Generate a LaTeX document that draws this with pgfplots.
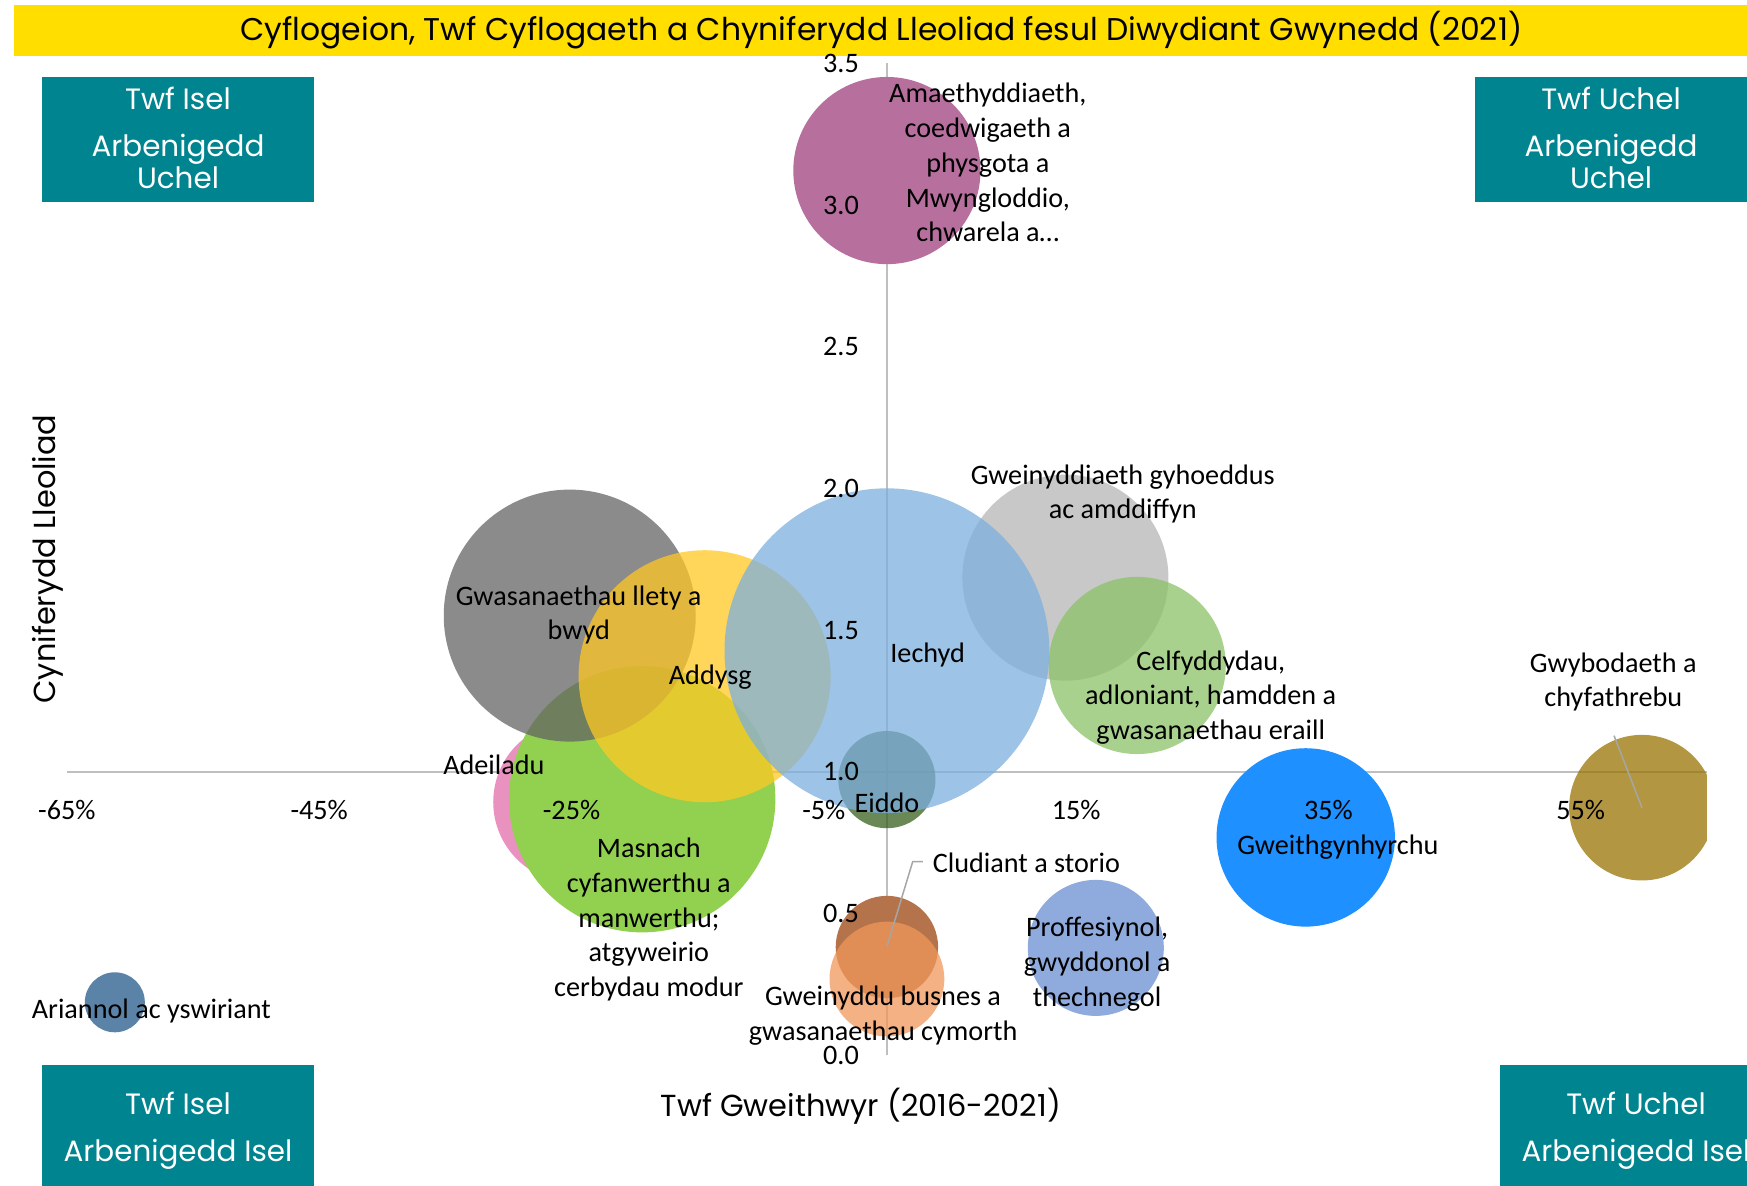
\documentclass[border=0pt]{standalone}
\usepackage{pgfplots}
\pgfplotsset{compat=1.18}
\usepackage{fontspec}
\setmainfont{Carlito}
\newfontfamily\geo{Poppins}
\definecolor{tealbox}{RGB}{0,132,143}
\definecolor{titlebar}{RGB}{255,222,0}
\definecolor{axgray}{RGB}{191,191,191}
\definecolor{leadgray}{RGB}{166,166,166}
\definecolor{cAde}{RGB}{233,145,191}
\definecolor{cMas}{RGB}{146,208,80}
\definecolor{cLle}{RGB}{100,100,100}
\definecolor{cAdd}{RGB}{255,200,35}
\definecolor{cEid}{RGB}{56,95,30}
\definecolor{cGwe}{RGB}{200,200,200}
\definecolor{cCel}{RGB}{140,194,104}
\definecolor{cIec}{RGB}{124,175,222}
\definecolor{cAma}{RGB}{183,112,158}
\definecolor{cGwh}{RGB}{30,144,255}
\definecolor{cGwy}{RGB}{152,115,2}
\definecolor{cClu}{RGB}{180,115,75}
\definecolor{cBus}{RGB}{240,151,90}
\definecolor{cPro}{RGB}{143,170,220}
\definecolor{cAri}{RGB}{91,131,168}
\newcommand{\lab}{\fontsize{14.1}{17.4}\selectfont}
\newcommand{\boxfont}{\geo\fontsize{14.7}{16}\selectfont}
\pgfplotsset{
  bub/.style={only marks, mark=*, mark options={draw opacity=0, fill=#1}},
  bubt/.style={only marks, mark=*, mark options={draw opacity=0, fill=#1, fill opacity=0.75}},
}
\begin{document}
\begin{tikzpicture}
\path[use as bounding box] (-33.45pt,-65.5pt) rectangle (840.05pt,527.5pt);
% title band
\fill[titlebar] (-26.2pt,499.5pt) rectangle (845pt,525pt);
\node[font=\geo\fontsize{15.7}{17}\selectfont, inner sep=0pt] at (407.3pt,512.25pt) {Cyflogeion, Twf Cyflogaeth a Chyniferydd Lleoliad fesul Diwydiant Gwynedd (2021)};
% quadrant boxes
\fill[tealbox] (-12.45pt,426.65pt) rectangle (123.55pt,489.15pt);
\node[white, font=\boxfont, inner sep=0pt] at (55.55pt,478.5pt) {Twf Isel};
\node[white, font=\boxfont, inner sep=0pt] at (55.55pt,452.8pt) {Arbenigedd};
\node[white, font=\boxfont, inner sep=0pt] at (55.55pt,438.65pt) {Uchel};
\fill[tealbox] (704.05pt,426.65pt) rectangle (845pt,489.15pt);
\node[white, font=\boxfont, inner sep=0pt] at (772.05pt,478.5pt) {Twf Uchel};
\node[white, font=\boxfont, inner sep=0pt] at (772.05pt,452.8pt) {Arbenigedd};
\node[white, font=\boxfont, inner sep=0pt] at (772.05pt,438.65pt) {Uchel};
\fill[tealbox] (-12.45pt,-70pt) rectangle (123.55pt,-5pt);
\node[white, font=\boxfont, inner sep=0pt] at (55.55pt,-24pt) {Twf Isel};
\node[white, font=\boxfont, inner sep=0pt] at (55.55pt,-49.7pt) {Arbenigedd Isel};
\fill[tealbox] (716.55pt,-70pt) rectangle (852.55pt,-5pt);
\node[white, font=\boxfont, inner sep=0pt] at (784.55pt,-24pt) {Twf Uchel};
\node[white, font=\boxfont, inner sep=0pt] at (784.55pt,-49.7pt) {Arbenigedd Isel};
% axis titles
\node[font=\geo\fontsize{15.2}{17}\selectfont, inner sep=0pt] at (397pt,-25.5pt) {Twf Gweithwyr (2016-2021)};
\node[font=\geo\fontsize{15.2}{17}\selectfont, inner sep=0pt, rotate=90] at (-9.4pt,248pt) {Cyniferydd Lleoliad};
\begin{axis}[
  at={(0pt,0pt)}, anchor=south west,
  scale only axis, width=820pt, height=495.75pt,
  xmin=-0.65, xmax=0.65, ymin=0, ymax=3.5,
  clip mode=individual, clip marker paths=true,
  axis on top,
  axis line style={draw=none}, tick style={draw=none},
  major tick length=0pt,
  xtick={-0.65,-0.45,-0.25,-0.05,0.15,0.35,0.55},
  xticklabels={-65\%,-45\%,-25\%,-5\%,15\%,35\%,55\%},
  ytick={0,0.5,1,1.5,2,2.5,3,3.5},
  yticklabels={0.0,0.5,1.0,1.5,2.0,2.5,3.0,3.5},
  xticklabel style={anchor=center, inner sep=0pt, yshift=122.45pt, font=\lab},
  yticklabel style={anchor=east, inner sep=0pt, xshift=396.2pt, font=\lab},
]
% axis lines crossing at (0,1)
\addplot[draw=axgray, line width=1pt, mark=none] coordinates {(-0.65,1) (0.65,1)};
\addplot[draw=axgray, line width=1pt, mark=none] coordinates {(0,0) (0,3.5)};
% bubbles
\addplot[bub=cAde, mark size=40.4pt] coordinates {(-0.248,0.893)};
\addplot[bub=cMas, mark size=66.6pt] coordinates {(-0.194,0.903)};
\addplot[bubt=cLle, mark size=63pt] coordinates {(-0.2514,1.551)};
\addplot[bubt=cAdd, mark size=63pt] coordinates {(-0.1445,1.337)};
\addplot[bubt=cEid, mark size=24.3pt] coordinates {(0,0.972)};
\addplot[bub=cGwe, mark size=51.5pt] coordinates {(0.1415,1.685)};
\addplot[bubt=cCel, mark size=44.3pt] coordinates {(0.1984,1.375)};
\addplot[bubt=cIec, mark size=81.2pt] coordinates {(0,1.427)};
\addplot[bub=cAma, mark size=46.8pt] coordinates {(0,3.122)};
\addplot[bub=cGwh, mark size=44.6pt] coordinates {(0.332,0.768)};
\addplot[bubt=cGwy, mark size=36.4pt] coordinates {(0.5985,0.873)};
\addplot[bub=cClu, mark size=25.6pt] coordinates {(0,0.381)};
\addplot[bubt=cBus, mark size=28.7pt] coordinates {(0,0.268)};
\addplot[bub=cPro, mark size=34pt] coordinates {(0.1656,0.378)};
\addplot[bub=cAri, mark size=15pt] coordinates {(-0.612,0.186)};
% leader lines
\draw[leadgray, line width=0.75pt] (axis cs:0,0.383) -- (axis cs:0.0205,0.683) -- (axis cs:0.0285,0.683);
\draw[leadgray, line width=0.75pt] (axis cs:0.5764,1.127) -- (axis cs:0.5985,0.873);
% data labels
\node[font=\lab, align=center, inner sep=0pt] at (axis cs:0.080,3.150) {Amaethyddiaeth,\\coedwigaeth a\\physgota a\\Mwyngloddio,\\chwarela a…};
\node[font=\lab, align=center, inner sep=0pt] at (axis cs:-0.2443,1.553) {Gwasanaethau llety a\\bwyd};
\node[font=\lab, align=center, inner sep=0pt] at (axis cs:-0.140,1.333) {Addysg};
\node[font=\lab, align=center, inner sep=0pt] at (axis cs:0.0323,1.412) {Iechyd};
\node[font=\lab, align=center, inner sep=0pt] at (axis cs:0.187,1.980) {Gweinyddiaeth gyhoeddus\\ac amddiffyn};
\node[font=\lab, align=center, inner sep=0pt] at (axis cs:0.2567,1.262) {Celfyddydau,\\adloniant, hamdden a\\gwasanaethau eraill};
\node[font=\lab, align=center, inner sep=0pt] at (axis cs:-0.3115,1.026) {Adeiladu};
\node[font=\lab, align=center, inner sep=0pt] at (axis cs:-0.1887,0.478) {Masnach\\cyfanwerthu a\\manwerthu;\\atgyweirio\\cerbydau modur};
\node[font=\lab, align=center, inner sep=0pt] at (axis cs:0,0.889) {Eiddo};
\node[font=\lab, align=center, inner sep=0pt] at (axis cs:0.3575,0.735) {Gweithgynhyrchu};
\node[font=\lab, align=center, inner sep=0pt] at (axis cs:0.5758,1.317) {Gwybodaeth a\\chyfathrebu};
\node[font=\lab, anchor=west, inner sep=0pt] at (axis cs:0.0361,0.680) {Cludiant a storio};
\node[font=\lab, align=center, inner sep=0pt] at (axis cs:0.1666,0.3205) {Proffesiynol,\\gwyddonol a\\thechnegol};
\node[font=\lab, align=center, inner sep=0pt] at (axis cs:-0.003,0.1376) {Gweinyddu busnes a\\gwasanaethau cymorth};
\node[font=\lab, align=center, inner sep=0pt] at (axis cs:-0.583,0.157) {Ariannol ac yswiriant};
\end{axis}
\end{tikzpicture}
\end{document}
